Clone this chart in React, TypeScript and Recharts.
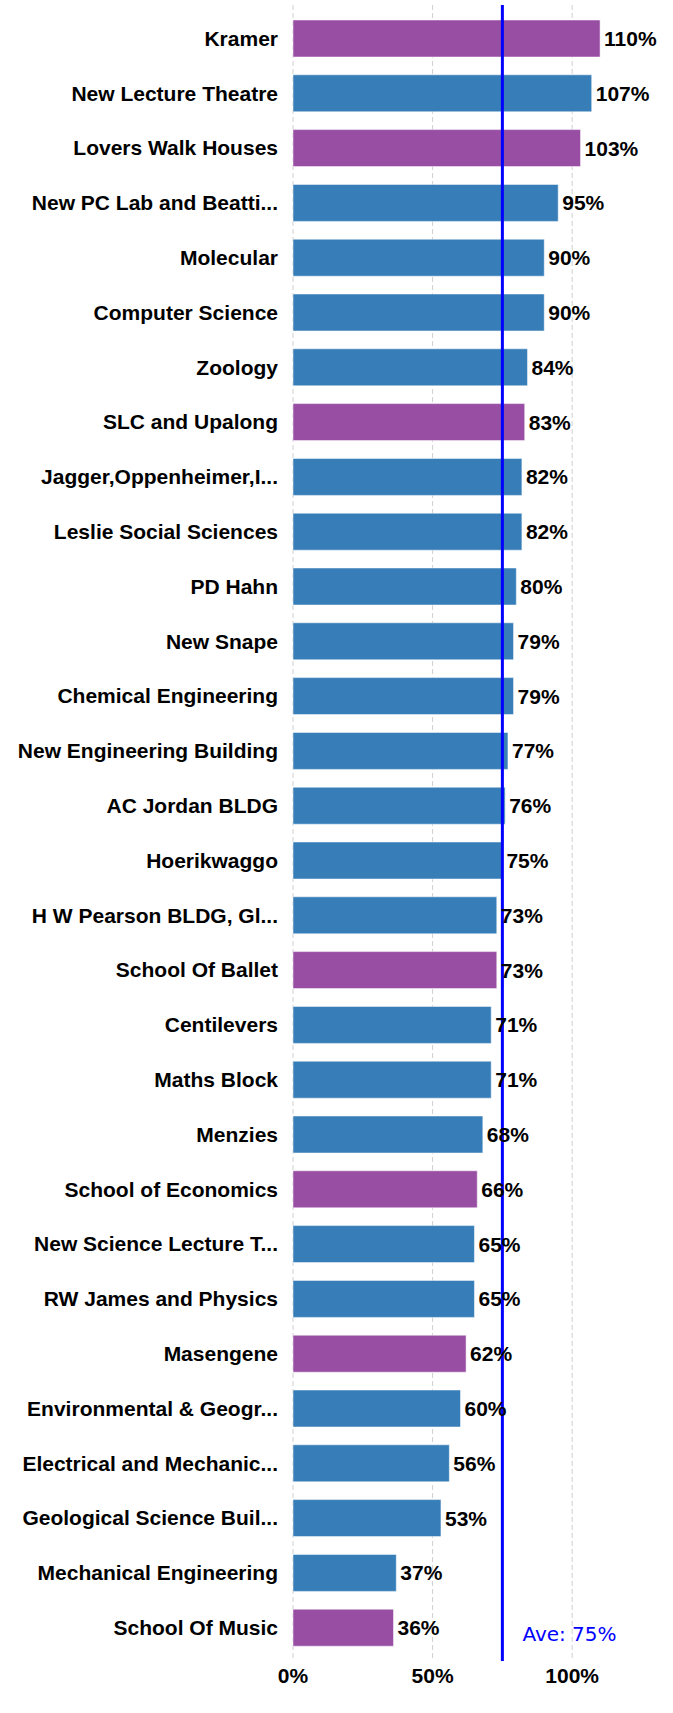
import React from 'react';
import { BarChart, Bar, XAxis, YAxis, CartesianGrid, ReferenceLine, LabelList, Cell } from 'recharts';

const buildings = [
  'Kramer', 'New Lecture Theatre', 'Lovers Walk Houses', 'New PC Lab and Beatti...', 'Molecular',
  'Computer Science', 'Zoology', 'SLC and Upalong', 'Jagger,Oppenheimer,I...', 'Leslie Social Sciences',
  'PD Hahn', 'New Snape', 'Chemical Engineering', 'New Engineering Building', 'AC Jordan BLDG',
  'Hoerikwaggo', 'H W Pearson BLDG, Gl...', 'School Of Ballet', 'Centilevers', 'Maths Block',
  'Menzies', 'School of Economics', 'New Science Lecture T...', 'RW James and Physics', 'Masengene',
  'Environmental & Geogr...', 'Electrical and Mechanic...', 'Geological Science Buil...', 'Mechanical Engineering', 'School Of Music',
];
const values = [110, 107, 103, 95, 90, 90, 84, 83, 82, 82, 80, 79, 79, 77, 76, 75, 73, 73, 71, 71, 68, 66, 65, 65, 62, 60, 56, 53, 37, 36];
const groups = ['res', 'aca', 'res', 'aca', 'aca', 'aca', 'aca', 'res', 'aca', 'aca', 'aca', 'aca', 'aca', 'aca', 'aca', 'aca', 'aca', 'res', 'aca', 'aca', 'aca', 'res', 'aca', 'aca', 'res', 'aca', 'aca', 'aca', 'aca', 'res'];
const xTicks = [0, 50, 100];
const average = 75;

const groupColors: Record<string, string> = { res: '#984ea3', aca: '#377eb8' };

const data = buildings.map((name, i) => ({ name, value: values[i], group: groups[i] }));

const FONT = '"Liberation Sans", Arial, sans-serif';

export default function App() {
  return (
    <div style={{ position: 'absolute', left: 0, top: 0, background: '#fff' }}>
      <BarChart
        width={673}
        height={1713}
        data={data}
        layout="vertical"
        margin={{ top: 5, right: 45, bottom: 22, left: 0 }}
      >
        <CartesianGrid
          horizontal={false}
          stroke="#d0d0d0"
          strokeDasharray="5 3"
          verticalValues={xTicks}
        />
        <XAxis
          type="number"
          domain={[0, 120]}
          ticks={xTicks}
          tickFormatter={(v: number) => `${v}%`}
          axisLine={false}
          tickLine={false}
          tickSize={0}
          tickMargin={7}
          height={30}
          tick={{ fontSize: 21, fontWeight: 'bold', fill: '#000', fontFamily: FONT }}
        />
        <YAxis
          type="category"
          dataKey="name"
          width={293}
          axisLine={false}
          tickLine={false}
          tickSize={0}
          tickMargin={15}
          interval={0}
          padding={{ top: 6, bottom: 6 }}
          tick={{ fontSize: 21, fontWeight: 'bold', fill: '#000', fontFamily: FONT }}
        />
        <Bar dataKey="value" barSize={37} isAnimationActive={false} stroke="#ffffff" strokeWidth={0.5}>
          {data.map((d, i) => (
            <Cell key={i} fill={groupColors[d.group]} />
          ))}
          <LabelList
            dataKey="value"
            position="right"
            offset={4}
            formatter={(v: number) => `${v}%`}
            style={{ fontSize: 21, fontWeight: 'bold', fill: '#000', fontFamily: FONT }}
          />
        </Bar>
        <ReferenceLine
          x={average}
          stroke="#0000ff"
          strokeWidth={3}
          label={{
            value: `Ave: ${average}%`,
            position: 'insideBottomLeft',
            offset: 20,
            fill: '#0000ff',
            fontSize: 20,
            fontFamily: '"DejaVu Sans", sans-serif',
          }}
        />
      </BarChart>
    </div>
  );
}
